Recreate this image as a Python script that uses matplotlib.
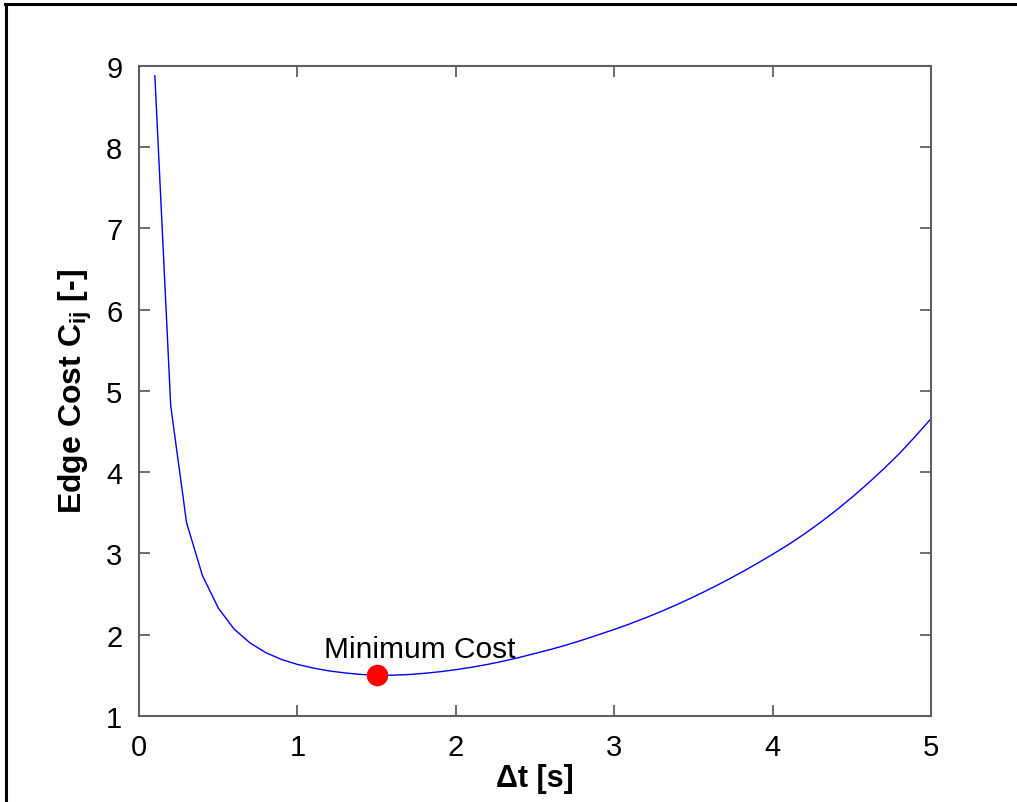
import matplotlib
matplotlib.use("Agg")
import matplotlib.pyplot as plt
from matplotlib.lines import Line2D

plt.rcParams["font.family"] = ["Liberation Sans", "DejaVu Sans"]
plt.rcParams["mathtext.fontset"] = "custom"
plt.rcParams["mathtext.rm"] = "Liberation Sans"
plt.rcParams["mathtext.bf"] = "Liberation Sans:bold"

# edge cost sampled every 0.1 s
dt = [0.1, 0.2, 0.3, 0.4, 0.5, 0.6, 0.7, 0.8, 0.9, 1.0,
      1.1, 1.2, 1.3, 1.4, 1.5, 1.6, 1.7, 1.8, 1.9, 2.0,
      2.1, 2.2, 2.3, 2.4, 2.5, 2.6, 2.7, 2.8, 2.9, 3.0,
      3.1, 3.2, 3.3, 3.4, 3.5, 3.6, 3.7, 3.8, 3.9, 4.0,
      4.1, 4.2, 4.3, 4.4, 4.5, 4.6, 4.7, 4.8, 4.9, 5.0]
cost = [8.88, 4.82, 3.38, 2.73, 2.33, 2.07, 1.90, 1.78, 1.695, 1.635,
        1.59, 1.555, 1.53, 1.512, 1.50, 1.502, 1.51, 1.525, 1.545, 1.57,
        1.60, 1.635, 1.675, 1.72, 1.77, 1.82, 1.875, 1.935, 2.00, 2.065,
        2.135, 2.21, 2.29, 2.375, 2.465, 2.56, 2.66, 2.765, 2.875, 2.99,
        3.11, 3.24, 3.38, 3.53, 3.69, 3.86, 4.04, 4.23, 4.44, 4.66]

min_dt = 1.5
min_cost = 1.5

xticks = [0, 1, 2, 3, 4, 5]
yticks = [1, 2, 3, 4, 5, 6, 7, 8, 9]

fig = plt.figure(figsize=(10.17, 8.03), dpi=100)
ax = fig.add_axes([0.1367, 0.1071, 0.7788, 0.8095])

ax.plot(dt, cost, color="#0000ff", lw=1.0)
ax.plot([min_dt], [min_cost], "o", color="#ff0000", ms=14.5, mec="#ff0000")
ax.text(min_dt + 0.27, min_cost + 0.225, "Minimum Cost", fontsize=21.5,
        ha="center", va="baseline")

ax.set_xlim(0, 5)
ax.set_ylim(1, 9)
ax.set_xticks(xticks)
ax.set_yticks(yticks)
ax.tick_params(direction="in", length=8, width=1.2, color="#555555",
               labelsize=21, top=True, right=True, pad=12)
for s in ax.spines.values():
    s.set_color("#606060")
    s.set_linewidth(1.5)

ax.set_xlabel("\u0394t [s]", fontsize=22, fontweight="bold", labelpad=2)
ax.set_ylabel(r"Edge Cost C$_{\mathbf{ij}}$ [-]", fontsize=23,
              fontweight="bold", labelpad=9)

# outer frame edges
fig.add_artist(Line2D([5 / 1017, 1], [1 - 5 / 803, 1 - 5 / 803],
                      transform=fig.transFigure, color="black", lw=2.2))
fig.add_artist(Line2D([6 / 1017, 6 / 1017], [0, 1 - 5 / 803],
                      transform=fig.transFigure, color="black", lw=2.2))

fig.savefig("out.png", dpi=100)
